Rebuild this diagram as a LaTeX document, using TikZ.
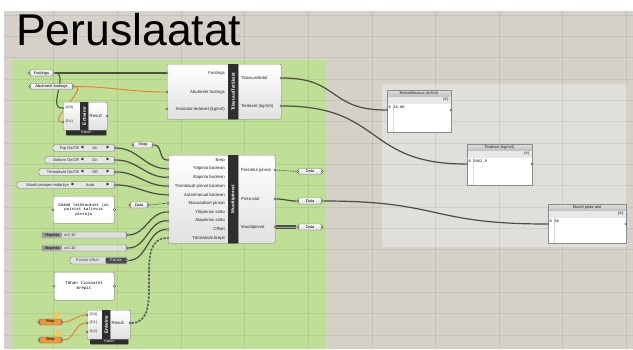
\documentclass[tikz,border=0pt]{standalone}
\usepackage{fontspec}
\setmainfont{Liberation Sans}
\setmonofont{Liberation Mono}
\newfontfamily\djv{DejaVu Sans}
\usetikzlibrary{calc}
\definecolor{canvas}{RGB}{213,209,201}
\definecolor{grp}{RGB}{191,222,150}
\definecolor{grpb}{RGB}{224,223,218}
\definecolor{wirec}{RGB}{74,78,68}
\definecolor{orw}{RGB}{240,122,40}
\definecolor{brepo}{RGB}{243,150,56}
\definecolor{flag}{RGB}{246,200,80}
\newcommand\cf{\fontsize{4.3}{5}\selectfont}
\newcommand\pf{\fontsize{4}{4.6}\selectfont}
\newcommand\smf{\fontsize{3.6}{4.2}\selectfont}
\pgfdeclarelayer{bgl}
\pgfdeclarelayer{wl}
\pgfsetlayers{bgl,wl,main}
\tikzset{
 lab/.style={font=\cf, inner sep=0, text=black!85},
 plab/.style={font=\pf, inner sep=0, text=black!85},
 grip/.style={circle, draw=black!75, fill=white, line width=0.35pt, minimum size=2.3pt, inner sep=0},
 comp/.style={draw=black!50, line width=0.4pt, top color=white, bottom color=black!12, rounded corners=1pt, inner sep=0, anchor=north west},
 cbar/.style={fill=black!82, draw=black!82, inner sep=0, anchor=north west, rounded corners=0.5pt},
 fbar/.style={fill=black!82, draw=black!82, inner sep=0, anchor=north west, rounded corners=0.6pt, font=\fontsize{3.4}{4}\selectfont, text=white},
 bartext/.style={rotate=90, font=\fontsize{4.6}{5}\selectfont\bfseries, text=white, inner sep=0},
 param/.style={draw=black!55, line width=0.4pt, top color=white, bottom color=black!15, rounded corners=1.5pt, minimum height=6pt, inner sep=0, font=\pf},
 oparam/.style={draw=black!60, line width=0.4pt, fill=brepo, rounded corners=1.5pt, minimum height=6pt, inner sep=0, font=\pf},
 vbody/.style={draw=black!55, line width=0.4pt, fill=black!10, rounded corners=1.5pt, minimum height=6.5pt, inner sep=0},
 arr/.style={font=\djv\fontsize{3.8}{4}\selectfont, inner sep=0, text=black!85},
 slbody/.style={draw=black!55, line width=0.4pt, fill=black!12, rounded corners=1.5pt, minimum height=6pt, inner sep=0},
 sllab/.style={fill=black!40, rounded corners=1.2pt, minimum height=5pt, inner sep=0, font=\pf},
 panel/.style={draw=black!55, line width=0.4pt, fill=white, rounded corners=1pt, inner sep=0, anchor=north west},
 wire/.style={draw=wirec, line width=1.2pt},
 lwire/.style={draw=wirec, line width=1.2pt, looseness=1.35},
 owire/.style={draw=orw, line width=0.9pt},
 ewire/.style={draw=wirec, line width=0.6pt, dash pattern=on 1.5pt off 0.8pt},
 twire/.style={draw=wirec, line width=2pt, double=black!35, double distance=0.7pt},
 dwire/.style={draw=wirec!85, line width=1.7pt, dash pattern=on 2.5pt off 1.2pt},
 gridl/.style={draw=black, opacity=0.07, line width=0.5pt}
}
\newcommand\vlst[6]{%
 \node[vbody, minimum width={115-#2}] (#1) at ({(115+#2)/2},#3) {};
 \node[plab, anchor=east] at ({#5-3},#3) {#4};
 \node[arr] at (#5,#3) {◀};
 \node[plab] at ({(#5+108)/2},#3) {#6};
 \node[arr] at (108,#3) {▶};
 \node[grip] (#1o) at (115,#3) {};
}
\newcommand\rpanel[7]{%
 \fill[black, opacity=0.12] ({#2+1.2},{#3+1.2}) rectangle ({#2+#4+1.2},{#3+#5+1.2});
 \node[draw=black!45, line width=0.4pt, fill=white, minimum width=#4, minimum height=#5, inner sep=0, anchor=north west] (#1) at (#2,#3) {};
 \shade[top color=black!12, bottom color=black!25] (#2,#3) rectangle ({#2+#4},{#3+6.5});
 \fill[black!9] (#2,{#3+6.5}) rectangle ({#2+#4},{#3+13.5});
 \draw[black!45, line width=0.4pt] (#2,#3) rectangle ({#2+#4},{#3+#5});
 \draw[black!15, line width=0.4pt] ({#2+6},{#3+13.5}) -- ({#2+6},{#3+#5});
 \node[plab] at ({#2+#4/2},{#3+3.4}) {#6};
 \node[font=\ttfamily\fontsize{3.4}{4}\selectfont, inner sep=0, anchor=east] at ({#2+#4-2},{#3+10}) {\{0\}};
 \node[font=\ttfamily\fontsize{3.8}{4}\selectfont, inner sep=0, anchor=west] at ({#2+1.5},{#3+17}) {#7};
 \node[grip] (#1i) at (#2,{#3+20}) {};
 \node[grip] (#1o) at ({#2+#4},{#3+20}) {};
}
\begin{document}
\begin{tikzpicture}[x=1pt,y=-1pt]
\useasboundingbox (0,0) rectangle (633,349);
\begin{pgfonlayer}{bgl}
\fill[white] (0,0) rectangle (633,349);
\fill[canvas] (4,11) rectangle (633,349);
\fill[grp] (12,60) rectangle (326,349);
\fill[grpb] (382,84) rectangle (627,247);
\foreach \x in {53,117,181,244,308,372,435,499,562,626} \draw[gridl] (\x,11) -- (\x,349);
\foreach \y in {15,36,57,79,100,121,143,164,185,207,228,249,271,292,313,335} \draw[gridl] (4,\y) -- (633,\y);
\end{pgfonlayer}

% title
\node[anchor=base west, font=\fontsize{44.5}{46}\selectfont, inner sep=0] (title) at (16,45) {Peruslaatat};

% params top
\node[param, minimum width=24pt] (Foot) at (41.5,73) {Footings};
\node[grip] at (Foot.west) {}; \node[grip] (Footo) at (Foot.east) {};
\node[param, minimum width=43pt] (Abut) at (51.5,86.5) {Abutment footings};
\node[grip] at (Abut.west) {}; \node[grip] (Abuto) at (Abut.east) {};

% Entwine 1
\node[fbar, minimum width=40pt, minimum height=5pt] (E1f) at (66,130) {Flatten};
\node[comp, minimum width=44pt, minimum height=28pt] (E1) at (63,102) {};
\node[cbar, minimum width=8pt, minimum height=28pt] (E1b) at (80,102) {};
\node[bartext] at (E1b.center) {Entwine};
\node[lab, anchor=west, font=\smf] at (65.5,108) {\{0;0\}};
\node[lab, anchor=west, font=\smf] at (65.5,122) {\{0;1\}};
\node[lab, anchor=west] at (89.5,116) {Result};
\node[grip] (E1i1) at (63,108) {};
\node[grip] (E1i2) at (63,122) {};
\node[grip] (E1o) at (107,116) {};

% Tilavuus / Teräkset
\node[comp, minimum width=114pt, minimum height=55pt] (T) at (167,64) {};
\node[cbar, minimum width=10pt, minimum height=55pt] (Tb) at (228,64) {};
\node[bartext] at (Tb.center) {Tilavuus/Teräkset};
\node[lab, anchor=east] at (225,73) {Footings};
\node[lab, anchor=east] at (225,92) {Abutment footings};
\node[lab, anchor=east] at (225,109) {Arvioidut teräkset (kg/m3)};
\node[lab, anchor=west] at (241,78) {Tilavuustiedot};
\node[lab, anchor=west] at (241,106) {Teräkset (kg/m3)};
\node[grip] (Ti1) at (167,73) {};
\node[grip] (Ti2) at (167,92) {};
\node[grip] (Ti3) at (167,109) {};
\node[grip] (To1) at (281,78) {};
\node[grip] (To2) at (281,106) {};

% inputs for Muottipinnat
\node[param, minimum width=20pt] (Snap) at (143,145) {Snap};
\node[grip] at (Snap.west) {}; \node[grip] (Snapo) at (Snap.east) {};
\vlst{Top}{53}{148}{Top On/Off}{82}{On}
\vlst{Bot}{45}{160}{Bottom On/Off}{82}{On}
\vlst{Torm}{39}{172}{Törmäävät On/Off}{82}{Off}
\vlst{Muot}{17}{185}{Muotti pintojen määritys}{72}{Auto}

\node[panel, minimum width=61pt, minimum height=27pt] (N1) at (53,196) {};
\node[font=\ttfamily\fontsize{4}{4.5}\selectfont, align=center, inner sep=0] at (N1.center) {Säädä leikkaukset jos\\poistat kaltevia\\pintoja};
\node[grip] at (N1.west) {}; \node[grip] at (N1.east) {};

\node[param, minimum width=18pt] (Dat) at (139,205) {Data};
\node[grip] at (Dat.west) {}; \node[grip] (Dato) at (Dat.east) {};

\node[slbody, minimum width=85pt] (Yla) at (84.5,235) {};
\node[sllab, minimum width=20pt, anchor=west] at (Yla.west) {Yläpinta};
\draw[black!60, line width=0.4pt] (65.5,235) circle (1.1pt);
\node[plab, anchor=west] at (67.5,235) {0.10};
\node[grip] (Ylao) at (127,235) {};

\node[slbody, minimum width=85pt] (Ala) at (84.5,248) {};
\node[sllab, minimum width=20pt, anchor=west] at (Ala.west) {Alapinta};
\draw[black!60, line width=0.4pt] (65.5,248) circle (1.1pt);
\node[plab, anchor=west] at (67.5,248) {0.10};
\node[grip] (Alao) at (127,248) {};

\node[slbody, minimum width=57pt, minimum height=7pt] (Tog) at (98.5,260.5) {};
\node[plab, text=black!70] at (87.5,260.5) {Poistat offset};
\node[fill=black!70, rounded corners=1.2pt, minimum width=21pt, minimum height=6pt, inner sep=0, anchor=east, text=white, font=\ttfamily\fontsize{3.8}{4}\selectfont] at ($(Tog.east)+(-0.5,0)$) {False};
\node[grip] (Togo) at (127,260.5) {};

\node[panel, minimum width=60pt, minimum height=28pt] (N2) at (54,272) {};
\node[font=\ttfamily\fontsize{4.2}{4.8}\selectfont, align=center, inner sep=0] at ($(N2.center)+(0,-0.5)$) {Tähän tiosaaret\\brepit};
\node[grip] at (N2.west) {}; \node[grip] at (N2.east) {};

% Breps and Entwine 2
\fill[flag] (55,312) rectangle (60,316.5);
\fill[flag] (55,331) rectangle (60,335.5);
\node[oparam, minimum width=23pt] (B1) at (50.5,322) {Brep};
\node[grip] at (B1.west) {}; \node[grip] (B1o) at (B1.east) {};
\node[oparam, minimum width=23pt] (B2) at (50.5,340) {Brep};
\node[grip] at (B2.west) {}; \node[grip] (B2o) at (B2.east) {};

\node[fbar, minimum width=38pt, minimum height=5pt] (E2f) at (90,339) {Flatten};
\node[comp, minimum width=43pt, minimum height=29pt] (E2) at (87,310) {};
\node[cbar, minimum width=8pt, minimum height=29pt] (E2b) at (102,310) {};
\node[bartext] at (E2b.center) {Entwine};
\node[lab, anchor=west, font=\smf] at (89.5,315) {\{0;0\}};
\node[lab, anchor=west, font=\smf] at (89.5,323) {\{0;1\}};
\node[lab, anchor=west, font=\smf] at (89.5,332) {\{0;2\}};
\node[lab, anchor=west] at (111.5,323) {Result};
\node[grip] (E2i1) at (87,315) {};
\node[grip] (E2i2) at (87,323) {};
\node[grip] (E2i3) at (87,332) {};
\node[grip] (E2o) at (130,323) {};

% Muottipinnat
\node[comp, minimum width=107pt, minimum height=88pt] (M) at (168,155) {};
\node[cbar, minimum width=10pt, minimum height=88pt] (Mb) at (228,155) {};
\node[bartext] at (Mb.center) {Muottipinnat};
\foreach \t [count=\i] in {Brep,Yläpinta boolean,Alapinta boolean,Törmäävät pinnat boolean,Auto/manual boolean,Manuaaliset pinnat,Yläpinnan siirto,Alapinnan siirto,Offset,Törmäävät brepit}{
 \pgfmathsetmacro\yy{160+(\i-1)*8.67}
 \node[lab, anchor=east] at (225,\yy) {\t};
 \node[grip] (Mi\i) at (168,\yy) {};
}
\node[lab, anchor=west] at (241,170) {Poistetut pinnat};
\node[lab, anchor=west] at (241,199) {Pinta-alat};
\node[lab, anchor=west] at (241,227) {Muottipinnat};
\node[grip] (Mo1) at (275,170) {};
\node[grip] (Mo2) at (275,199) {};
\node[grip] (Mo3) at (275,227) {};

\node[param, minimum width=24pt] (D1) at (310,171.5) {Data};
\node[grip] (D1i) at (D1.west) {}; \node[grip] at (D1.east) {};
\node[param, minimum width=24pt] (D2) at (310,201) {Data};
\node[grip] (D2i) at (D2.west) {}; \node[grip] (D2o) at (D2.east) {};
\node[param, minimum width=24pt] (D3) at (310,227) {Data};
\node[grip] (D3i) at (D3.west) {}; \node[grip] at (D3.east) {};

% right panels
\rpanel{P1}{387}{90}{64}{42}{Betonitilavuus (m3/m)}{0 16.08}
\rpanel{P2}{467}{144}{65}{41}{Teräkset (kg/m3)}{0 2062.9}
\rpanel{P3}{548}{204}{78}{39}{Muotti pinta-alat}{0 30}

% wires
\begin{pgfonlayer}{wl}
\draw[wire] (Footo) -- (Ti1);
\draw[wire, draw=wirec!80!green] (Footo) to[out=0,in=180] (E1i1);
\draw[owire] (Abuto) to[out=0,in=180] (Ti2);
\draw[owire] (Abuto) to[out=0,in=180] (E1i2);
\draw[lwire] (To1) to[out=0,in=180] (P1i);
\draw[lwire] (To2) to[out=0,in=180] (P2i);
\draw[wire] (Snapo) to[out=0,in=180] (Mi1);
\draw[wire] (Topo) to[out=0,in=180] (Mi2);
\draw[wire] (Boto) to[out=0,in=180] (Mi3);
\draw[wire] (Tormo) to[out=0,in=180] (Mi4);
\draw[wire] (Muoto) to[out=0,in=180] (Mi5);
\draw[ewire] (Dato) to[out=0,in=180] (Mi6);
\draw[wire] (Ylao) to[out=0,in=180] (Mi7);
\draw[wire] (Alao) to[out=0,in=180] (Mi8);
\draw[wire] (Togo) to[out=0,in=180] (Mi9);
\draw[dwire] (E2o) to[out=0,in=180] (Mi10);
\draw[owire] (B1o) to[out=0,in=180] (E2i1);
\draw[owire] (B2o) to[out=0,in=180] (E2i2);
\draw[ewire] (Mo1) -- (D1i);
\draw[wire] (Mo2) to[out=0,in=180] (D2i);
\draw[twire] (Mo3) -- (D3i);
\draw[lwire] (D2o) to[out=0,in=180] (P3i);
\end{pgfonlayer}
\end{tikzpicture}
\end{document}
